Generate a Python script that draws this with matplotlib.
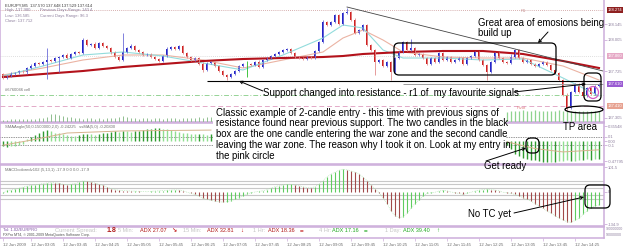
import matplotlib
import matplotlib.pyplot as plt
import matplotlib.transforms as mtransforms
import numpy as np
from matplotlib.patches import Ellipse, FancyBboxPatch, Rectangle

matplotlib.use("Agg")
plt.rcParams["font.family"] = ["Liberation Sans", "DejaVu Sans"]

W, H = 625, 249

# --- EURJPY M5 candles (close prices, wicks in pips) ---
first_open = 137.698
closes = [
    137.662, 137.680, 137.698, 137.707, 137.725, 137.716, 137.752, 137.770, 137.797, 137.788,
    137.806, 137.824, 137.815, 137.842, 137.851, 137.869, 137.842, 137.878, 137.896, 137.887,
    138.004, 137.959, 137.968, 137.932, 137.977, 137.950, 137.932, 137.896, 137.851, 137.824,
    137.896, 137.932, 137.950, 137.914, 137.896, 137.869, 137.878, 137.851, 137.833, 137.815,
    137.860, 137.923, 137.941, 137.923, 137.950, 137.887, 137.851, 137.824, 137.842, 137.788,
    137.734, 137.797, 137.806, 137.770, 137.725, 137.689, 137.671, 137.698, 137.725, 137.770,
    137.788, 137.788, 137.779, 137.806, 137.761, 137.824, 137.842, 137.860, 137.878, 137.896,
    137.914, 137.923, 137.887, 137.851, 137.842, 137.833, 137.851, 137.842, 137.905, 137.986,
    138.166, 138.139, 138.166, 138.229, 138.148, 138.247, 138.256, 138.184, 138.067, 138.094,
    138.139, 137.959, 137.914, 137.806, 137.824, 137.770, 137.806, 137.716, 137.842, 137.896,
    137.986, 137.914, 137.932, 137.869, 137.878, 137.842, 137.788, 137.842, 137.806, 137.887,
    137.824, 137.851, 137.806, 137.824, 137.842, 137.788, 137.842, 137.860, 137.896, 137.824,
    137.779, 137.716, 137.806, 137.887, 137.842, 137.806, 137.797, 137.851, 137.914, 137.842,
    137.806, 137.824, 137.788, 137.770, 137.788, 137.806, 137.779, 137.734, 137.707, 137.644,
    137.509, 137.392, 137.536, 137.608, 137.536, 137.500, 137.572, 137.518, 137.590, 137.608,
]
up_wick = [
    1, 1, 2, 1, 1, 1, 1, 2, 1, 1, 1, 11, 1, 1, 1, 1, 2, 1, 1, 1,
    2, 1, 1, 2, 1, 1, 1, 1, 1, 1, 17, 1, 2, 1, 1, 1, 1, 1, 1, 1,
    1, 2, 1, 1, 1, 1, 1, 1, 1, 1, 2, 1, 1, 1, 1, 1, 1, 1, 1, 1,
    1, 3, 1, 1, 2, 1, 1, 1, 1, 1, 1, 1, 1, 1, 1, 1, 1, 1, 1, 1,
    2, 1, 1, 1, 1, 1, 4, 1, 2, 1, 1, 1, 1, 1, 1, 1, 1, 1, 1, 1,
    1, 1, 8, 1, 1, 1, 1, 1, 1, 1, 1, 1, 1, 1, 1, 1, 1, 1, 1, 1,
    1, 1, 1, 1, 1, 1, 1, 3, 1, 1, 1, 1, 1, 1, 1, 1, 1, 1, 1, 1,
    1, 2, 1, 1, 1, 1, 1, 1, 1, 1,
]
down_wick = [
    1, 1, 1, 1, 1, 1, 2, 1, 1, 1, 1, 15, 1, 1, 13, 1, 1, 1, 1, 1,
    1, 1, 1, 1, 1, 1, 1, 2, 1, 1, 1, 1, 1, 1, 1, 1, 1, 1, 1, 1,
    1, 1, 1, 1, 1, 1, 1, 1, 1, 1, 2, 1, 1, 1, 1, 1, 3, 1, 1, 1,
    1, 12, 1, 1, 1, 1, 1, 1, 1, 1, 1, 1, 1, 1, 1, 1, 1, 1, 1, 1,
    1, 1, 1, 1, 1, 1, 1, 1, 1, 1, 1, 1, 1, 12, 1, 1, 1, 7, 1, 1,
    1, 1, 1, 1, 1, 1, 1, 1, 1, 1, 1, 1, 1, 1, 1, 1, 1, 1, 1, 1,
    1, 7, 1, 1, 1, 1, 1, 1, 1, 1, 1, 1, 1, 1, 1, 1, 1, 1, 1, 1,
    1, 2, 1, 1, 1, 1, 1, 1, 1, 1,
]

# moving averages, sampled at candle indices
ma_idx = [0, 10, 20, 30, 40, 50, 60, 70, 80, 85, 90, 95, 100, 110, 120, 130, 140, 149]
ma_slow = [137.671, 137.698, 137.725, 137.761, 137.788, 137.815, 137.833, 137.842, 137.851,
           137.860, 137.878, 137.887, 137.896, 137.905, 137.905, 137.878, 137.815, 137.752]
ma_mid = [137.689, 137.752, 137.824, 137.869, 137.869, 137.824, 137.752, 137.824, 137.896,
          138.022, 138.094, 138.004, 137.896, 137.851, 137.842, 137.842, 137.770, 137.644]
ma_fast = [137.680, 137.770, 137.869, 137.896, 137.860, 137.797, 137.734, 137.869, 138.022,
           138.139, 138.112, 137.914, 137.842, 137.842, 137.824, 137.833, 137.662, 137.500]

# levels drawn on the price chart
r1_level = 138.274
day_open = 137.860
s_level = 137.509
pivot_level = 137.410
bid_price = 137.608
support_price = 137.635
trend_idx = [86, 150]
trend_px = [138.301, 137.725]

price_ticks = [137.305, 137.725, 138.005, 138.145]

# "cell" histogram (hidden under the note in the middle)
cell_left = [0.05, 0.06, 0.07, 0.08, 0.08, 0.09, 0.08, 0.08, 0.09, 0.10, 0.10, 0.12, 0.20, 0.22,
             0.18, 0.15, 0.12, 0.14, 0.10, 0.10, 0.09, 0.10, 0.10, 0.09, 0.10, 0.09, 0.10, 0.10,
             0.11, 0.12, 0.16, 0.12, 0.10, 0.10, 0.09, 0.10, 0.10, 0.09, 0.10, 0.10, 0.09, 0.10,
             0.10, 0.10, 0.09, 0.10, 0.11, 0.10, 0.10, 0.12, 0.10, 0.14, 0.12]
cell_right = [0.25, 0.28, 0.30, 0.30, 0.32, 0.30, 0.30, 0.32, 0.30, 0.30, 0.28, 0.30, 0.30,
              0.32, 0.30, 0.28, 0.30, 0.30, 0.28, 0.30, 0.30, 0.28, 0.30, 0.30]

# SMAAngle histogram + signal
sma_left = [-0.12, -0.14, -0.13, -0.12, -0.10, -0.08, 0.05, 0.10, 0.15, 0.20,
            0.24, 0.26, 0.24, 0.20, 0.18, 0.16, 0.14, 0.13, 0.12, 0.14,
            0.16, 0.17, 0.16, 0.15, 0.16, 0.18, 0.20, 0.22, 0.23, 0.22,
            0.24, 0.23, 0.22, 0.24, 0.25, 0.27, 0.28, 0.29, 0.30, 0.30,
            0.29, 0.28, 0.26, 0.24, 0.21, 0.19, 0.18, 0.17, 0.16, 0.17,
            0.16, 0.15, 0.16]
sma_right = [-0.10, -0.20, -0.30, -0.36, -0.40, -0.43, -0.45, -0.46, -0.48, -0.50,
             -0.50, -0.49, -0.50, -0.48, -0.47, -0.46, -0.48, -0.47, -0.45, -0.46,
             -0.44, -0.45, -0.43, -0.44]
sig_left_idx = [0, 7, 16, 30, 52]
sig_left = [-0.10, 0.02, 0.19, 0.24, 0.26]
sig_right_idx = [126, 133, 140, 149]
sig_right = [-0.02, -0.18, -0.26, -0.21]

# MACD colored
macd = [
    -8, 5, 6, 10, 14, 18, 22, 25, 28, 30, 33, 35, 37, 36, 34, 30, 28, 30, 33, 38,
    44, 42, 38, 35, 30, 25, 18, 12, 8, 5, 4, 3, 2, 2, 1, 0, -1, 1, 2, 3,
    4, 5, 6, 7, 6, 4, -3, -8, -12, -20, -28, -33, -37, -40, -42, -44, -42, -38, -32, -25,
    -18, -10, -5, -2, 1, 3, 8, 14, 20, 24, 28, 30, 30, 27, 24, 20, 16, 15, 20, 30,
    45, 60, 72, 80, 88, 92, 90, 85, 80, 74, 60, 45, 28, 10, -5, -25, -50, -80, -100, -108,
    -105, -90, -70, -50, -35, -20, -8, -5, -3, 2, 5, 3, -2, -5, -8, -12, -8, -3, 2, 6,
    8, 10, 8, 6, 3, -3, -5, -8, -12, -18, -25, -32, -40, -50, -60, -70, -80, -90, -100, -110,
    -118, -125, -128, -120, -110, -95, -80, -70, -60, -55,
]
macd_levels = [45, 30, 15, -15, -30]

time_idx = [0] + list(range(7, 150, 8))
time_labels = ["12 Jun 2009", "12 Jun 03:05", "12 Jun 03:45", "12 Jun 04:25", "12 Jun 05:05",
               "12 Jun 05:45", "12 Jun 06:25", "12 Jun 07:05", "12 Jun 07:45", "12 Jun 08:25",
               "12 Jun 09:05", "12 Jun 09:45", "12 Jun 10:25", "12 Jun 11:05", "12 Jun 11:45",
               "12 Jun 12:25", "12 Jun 13:05", "12 Jun 13:45", "12 Jun 14:25"]

FRAME = "#cdaedb"
LABEL = "#8d7f9d"
XLIM = (-0.75, 150.25)


def px_box(x0, y0, x1, y1):
    return [x0 / W, 1 - y1 / H, (x1 - x0) / W, (y1 - y0) / H]


def style_panel(a, top=True):
    for name, sp in a.spines.items():
        sp.set_color(FRAME)
        sp.set_linewidth(1.1)
    a.spines["top"].set_visible(top)
    a.set_xlim(*XLIM)
    a.set_xticks([])
    a.yaxis.tick_right()
    a.tick_params(axis="y", length=2, width=0.6, color=FRAME, labelsize=3,
                  labelcolor=LABEL, pad=1)


fig = plt.figure(figsize=(W / 100, H / 100), dpi=100)

# ---------------- price panel ----------------
ax = fig.add_axes(px_box(0, 0, 604, 122))
style_panel(ax, top=False)
ax.set_ylim(137.266, 138.364)
ax.set_yticks(price_ticks)
ax.set_yticklabels([f"{p:.3f}" for p in price_ticks])

xs = np.arange(len(closes))
c = np.array(closes)
o = np.array([first_open] + closes[:-1])
hi = np.maximum(o, c) + np.array(up_wick) * 0.01
lo = np.minimum(o, c) - np.array(down_wick) * 0.01
body_col = np.where(c > o, "#2424c8", np.where(c < o, "#d02222", "#22bb22"))
wick_col = np.where(c > o, "#6d6dd8", np.where(c < o, "#e28a8a", "#22bb22"))

ax.axhline(r1_level, color="#c99595", lw=0.6, ls=(0, (1, 1.5)))
ax.axhline(day_open, color="#d4d4d4", lw=0.6, ls=(0, (1, 1.5)))
ax.axhline(s_level, color="#95d395", lw=0.7, ls=(0, (5, 2, 1, 2)))
ax.axhline(pivot_level, color="#e3aac8", lw=0.7, ls=(0, (5, 3)))
ax.plot(ma_idx, ma_mid, color="#ebb3a3", lw=0.8)
ax.plot(ma_idx, ma_fast, color="#92dcdc", lw=0.8)
ax.plot(ma_idx, ma_slow, color="#b3121b", lw=1.5)
ax.vlines(xs, lo, hi, colors=wick_col, lw=0.6)
ax.bar(xs, np.where(c == o, 0.003, c - o), bottom=o, width=0.7, color=body_col, lw=0)
ax.plot(trend_idx, trend_px, color="#454545", lw=0.6)
ax.hlines(support_price, 51, 149.6, color="black", lw=0.8)
ax.hlines(bid_price, 100, 150.25, color="#9a9a9a", lw=0.7)

lbl_tr = mtransforms.blended_transform_factory(ax.transAxes, ax.transData)
for val, txt, bg in [(r1_level, "138.274", "#8e2020"), (day_open, "137.860", "#e6a9c6"),
                     (bid_price, "137.610", "#9a5bd2"), (pivot_level, "137.410", "#e7a291")]:
    ax.text(1.006, val, txt, transform=lbl_tr, fontsize=3, color="white", va="center",
            ha="left", bbox=dict(boxstyle="square,pad=0.25", fc=bg, ec="none"))
ax.text(129.5, r1_level - 0.02, "R1", fontsize=3, color="#c99595")
ax.text(128.5, pivot_level - 0.03, "Pivot", fontsize=3, color="#e07a7a")

info_lines = [
    (0.5, 138.318, "EURJPY,M5  137.570 137.648 137.529 137.614", "#3a3a3a"),
    (0.5, 138.272, "High: 137.980", LABEL),
    (9.3, 138.272, "Previous Days Range: 140.4", LABEL),
    (0.5, 138.222, "Low: 136.585", LABEL),
    (9.3, 138.222, "Current Days Range: 96.3", LABEL),
    (0.5, 138.176, "Close: 137.712", LABEL),
]
for xi, yi, txt, col in info_lines:
    ax.text(xi, yi, txt, fontsize=3, color=col, va="center")

# ---------------- cell histogram (inside main window) ----------------
axc = fig.add_axes(px_box(0, 84, 604, 122))
axc.set_xlim(*XLIM)
axc.set_ylim(0, 1)
axc.axis("off")
axc.vlines(np.arange(len(cell_left)), 0, cell_left, colors="#8fbf8f", lw=0.7)
axc.vlines(np.arange(126, 126 + len(cell_right)), 0, cell_right, colors="#8fd38f", lw=0.9)
axc.text(0.5, 0.84, "#6760046 cell", fontsize=3, color="#707070", va="center")

# ---------------- SMAAngle panel ----------------
axs = fig.add_axes(px_box(0, 123, 604, 164))
style_panel(axs)
axs.set_ylim(-0.5476, 0.4286)
sma_ticks = [0.35548, 0.1, 0.0, -0.1, -0.47795]
axs.set_yticks(sma_ticks)
axs.set_yticklabels(["0.35548", "0.1", "0.00", "-0.1", "-0.47795"])
for lev in (0.1, -0.1):
    axs.axhline(lev, color="#303030", lw=0.5, ls=(0, (1, 1.5)))
for idx0, vals in ((0, sma_left), (126, sma_right)):
    v = np.array(vals)
    prev = np.concatenate([[v[0]], v[:-1]])
    cols = np.where(np.abs(v) >= np.abs(prev), "#2f9b2f", "#8fdf8f")
    axs.vlines(np.arange(idx0, idx0 + len(v)), 0, v, colors=cols, lw=1.0)
axs.plot(sig_left_idx, sig_left, color="#d6b38e", lw=0.7)
axs.plot(sig_right_idx, sig_right, color="#d6b38e", lw=0.7)
axs.text(0.5, 0.33, "SMAAngle(50,0.1500000,2,0) -0.24225   ssMA(5,0) -0.20800",
         fontsize=3, color="#707070", va="center")

# ---------------- MACD panel ----------------
axm = fig.add_axes(px_box(0, 165, 604, 226))
style_panel(axm)
axm.set_ylim(-143, 110)
axm.set_yticks([101.5, 0, -134.9])
axm.set_yticklabels(["101.5", "0", "-134.9"])
for lev in macd_levels:
    axm.axhline(lev, color="#c8c8c8", lw=0.8)
m = np.array(macd)
mprev = np.concatenate([[m[0]], m[:-1]])
mcol = np.where(m >= mprev, "#5fcc5f", "#a24a4a")
axm.vlines(np.arange(len(m)), 0, m, colors=mcol, lw=0.8)
axm.plot(np.arange(len(m)), m, color="#a8e0a8", lw=0.5, ls=(0, (1, 1.5)))
axm.text(0.5, 88, "MACDcoloredv102 (5,13,1) -17.9 0.0 0.0 -17.9", fontsize=3,
         color="#707070", va="center")

# ---------------- info bar + time axis ----------------
axi = fig.add_axes(px_box(0, 227, 604, 238))
style_panel(axi)
axi.set_ylim(0, 1)
axi.set_yticks([])
axi.set_xticks(time_idx)
axi.set_xticklabels(time_labels)
axi.tick_params(axis="x", length=2, width=0.5, color=FRAME, labelsize=3.1,
                labelcolor="#6a6a6a", pad=1.5)
for t in axi.get_xticklabels():
    t.set_ha("left")

# ---------------- annotations (pixel coordinates) ----------------
ov = fig.add_axes([0, 0, 1, 1], zorder=10)
ov.set_xlim(0, W)
ov.set_ylim(H, 0)
ov.axis("off")
ov.patch.set_alpha(0)

ov.add_patch(Rectangle((213, 108), 293, 55, fc="white", ec="none"))

note_font = dict(fontsize=6.9, color="black", family=["Liberation Sans", "DejaVu Sans"])
ov.text(263, 93, "Support changed into resistance - r1 of  my favourite signals",
        va="center", ha="left", **note_font)
ov.text(478, 23, "Great area of emosions being", va="center", ha="left", **note_font)
ov.text(478, 33, "build up", va="center", ha="left", **note_font)
ov.text(216, 107.5, "Classic example of 2-candle entry - this time with previous signs of\n"
        "resistance found near previous support. The two candles in the black\n"
        "box are the one candle entering the war zone and the second candle\n"
        "leaving the war zone. The reason why I took it on. Look at my entry in\n"
        "the pink circle", va="top", ha="left", linespacing=1.12, **note_font)
ov.text(563, 127, "TP area", va="center", ha="left", **note_font)
ov.text(484, 166, "Get ready", va="center", ha="left", **note_font)
ov.text(468, 214, "No TC yet", va="center", ha="left", **note_font)

arrow = dict(arrowstyle="->", color="black", lw=0.7, shrinkA=0, shrinkB=0, mutation_scale=5)
ov.annotate("", xy=(239, 81), xytext=(263, 91), arrowprops=arrow)
ov.annotate("", xy=(586, 84), xytext=(514, 92), arrowprops=arrow)
ov.annotate("", xy=(538, 43), xytext=(548, 32), arrowprops=arrow)
ov.annotate("", xy=(526, 148), xytext=(486, 161), arrowprops=arrow)
ov.annotate("", xy=(584, 197), xytext=(514, 213), arrowprops=arrow)

rounded = "round,pad=0,rounding_size=5"
for (bx, by, bw, bh) in [(394, 43, 162, 32), (584, 73, 17, 28), (526, 138, 13, 15),
                         (585, 185, 25, 23)]:
    ov.add_patch(FancyBboxPatch((bx, by), bw, bh, boxstyle=rounded, fc="none",
                                ec="black", lw=0.9))
ov.add_patch(Ellipse((593, 92.5), 11, 12, fc="none", ec="#d45cc4", lw=0.9))
ov.add_patch(Ellipse((584, 109.5), 38, 7, fc="none", ec="black", lw=0.9))

# info bar text
small = dict(va="center", ha="left")
ov.text(3, 229.5, "Tol: 1.02/EURPRO", fontsize=3, color="#7b4fa0", **small)
ov.text(3, 235.2, "FXPro MT4, \u00a9 2001-2009 MetaQuotes Software Corp.", fontsize=2.6,
        color="#505050", **small)
bar_items = [
    (55, "Current Spread:", "#c4c4c4", 4.2, "normal"),
    (107, "1.8", "#b01c1c", 5, "bold"),
    (118, "5 Min:", "#c4c4c4", 4.0, "normal"),
    (140, "ADX 27.07", "#b01818", 4.0, "normal"),
    (171, "\u2198", "#c01818", 4.5, "bold"),
    (183, "15 Min:", "#c4c4c4", 4.0, "normal"),
    (207, "ADX 32.81", "#b01818", 4.0, "normal"),
    (240, "\u2193", "#c01818", 4.5, "bold"),
    (253, "1 Hr:", "#c4c4c4", 4.0, "normal"),
    (268, "ADX 18.36", "#b01818", 4.0, "normal"),
    (300, "=", "#c01818", 4.5, "bold"),
    (319, "4 Hr:", "#c4c4c4", 4.0, "normal"),
    (332, "ADX 17.16", "#22a822", 4.0, "normal"),
    (364, "=", "#22a822", 4.5, "bold"),
    (385, "1 Day:", "#c4c4c4", 4.0, "normal"),
    (403, "ADX 39.40", "#22a822", 4.0, "normal"),
    (436, "\u2191", "#22a822", 4.5, "bold"),
]
for bx, txt, col, fs, fw in bar_items:
    ov.text(bx, 230.8, txt, fontsize=fs, color=col, fontweight=fw, **small)
ov.text(606, 229, "-90000000", fontsize=2.6, color=LABEL, **small)
ov.text(606, 234.5, "90000000", fontsize=2.6, color=LABEL, **small)

fig.savefig("out.png", dpi=100)
